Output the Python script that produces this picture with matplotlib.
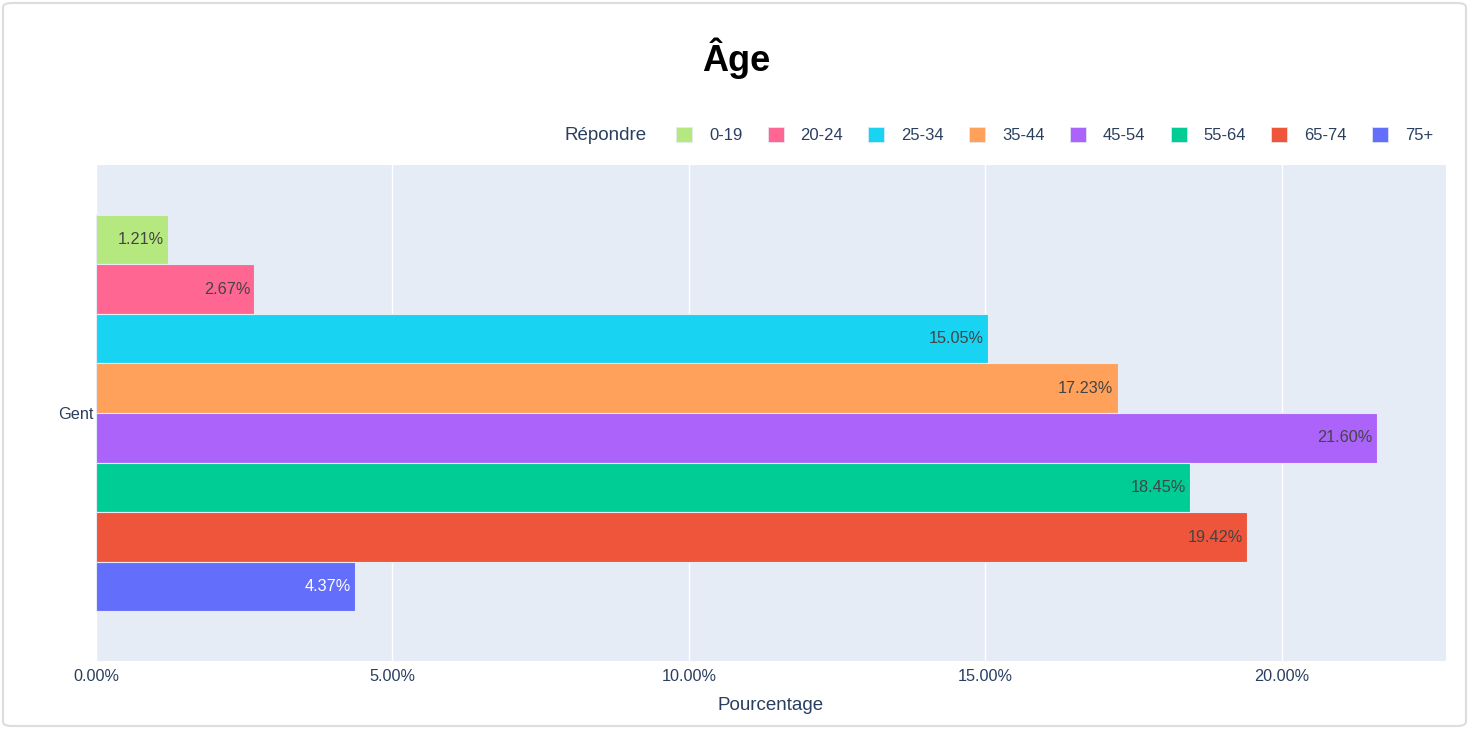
import numpy as np
import matplotlib.pyplot as plt
from matplotlib.patches import FancyBboxPatch, Patch
from matplotlib.ticker import FuncFormatter

# data
groups = ["0-19", "20-24", "25-34", "35-44", "45-54", "55-64", "65-74", "75+"]
values = [1.21, 2.67, 15.05, 17.23, 21.60, 18.45, 19.42, 4.37]
colors = ["#B6E880", "#FF6692", "#19D3F3", "#FFA15A",
          "#AB63FA", "#00CC96", "#EF553B", "#636EFA"]
text_colors = ["#444444"] * 7 + ["#ffffff"]
category = "Gent"

plt.rcParams['font.family'] = ['Liberation Sans', 'DejaVu Sans']
font_color = "#2a3f5f"

fig = plt.figure(figsize=(14.69, 7.29), dpi=100)
fig.patch.set_facecolor("white")

# card border
card = FancyBboxPatch((3 / 1469, 3 / 729), 1463 / 1469, 723 / 729,
                      boxstyle="round,pad=0,rounding_size=0.006",
                      transform=fig.transFigure, facecolor="white",
                      edgecolor="#dddddd", linewidth=1.5, zorder=-10)
fig.patches.append(card)

ax = fig.add_axes([96 / 1469, 1 - 661 / 729, 1350 / 1469, 496 / 729])
ax.set_facecolor("#E5ECF6")

n = len(groups)
bar_h = 0.8 / n
offsets = -0.4 + bar_h / 2 + np.arange(n) * bar_h
ax.barh(offsets, values, height=bar_h, color=colors,
        edgecolor="#E5ECF6", linewidth=0.8, zorder=3)

for y, v, tc in zip(offsets, values, text_colors):
    ax.annotate(f"{v:.2f}%", xy=(v, y), xytext=(-3, 0),
                textcoords="offset points", ha="right", va="center",
                fontsize=11.7, color=tc, zorder=4)

ax.set_xlim(0, 22.77)
ax.set_ylim(0.5, -0.5)
ax.set_xticks([0, 5, 10, 15, 20])
ax.xaxis.set_major_formatter(FuncFormatter(lambda x, p: f"{x:.2f}%"))
ax.set_yticks([0])
ax.set_yticklabels([category])
ax.grid(axis="x", color="white", linewidth=1, zorder=0)
ax.set_axisbelow(True)
for s in ax.spines.values():
    s.set_visible(False)
ax.tick_params(axis="both", length=0, colors=font_color, labelsize=11.7)
ax.tick_params(axis="x", pad=6)
ax.tick_params(axis="y", pad=2)
ax.set_xlabel("Pourcentage", fontsize=13.5, color=font_color, labelpad=9)

fig.text(736 / 1469, 1 - 58 / 729, "Âge", ha="center", va="center",
         fontsize=26, fontweight="bold", color="black")

fig.text(564 / 1469, 1 - 135 / 729, "Répondre", ha="left", va="center",
         fontsize=13.5, color=font_color)
handles = [Patch(facecolor=c, edgecolor="#E5ECF6", linewidth=0.5) for c in colors]
fig.legend(handles, groups, loc="center left",
           bbox_to_anchor=(676 / 1469, 1 - 135 / 729), ncol=n,
           frameon=False, handlelength=0.96, handleheight=0.96,
           handletextpad=1.02, columnspacing=1.51, fontsize=12,
           labelcolor=font_color, borderaxespad=0, borderpad=0)

fig.savefig("out.png", dpi=100)
